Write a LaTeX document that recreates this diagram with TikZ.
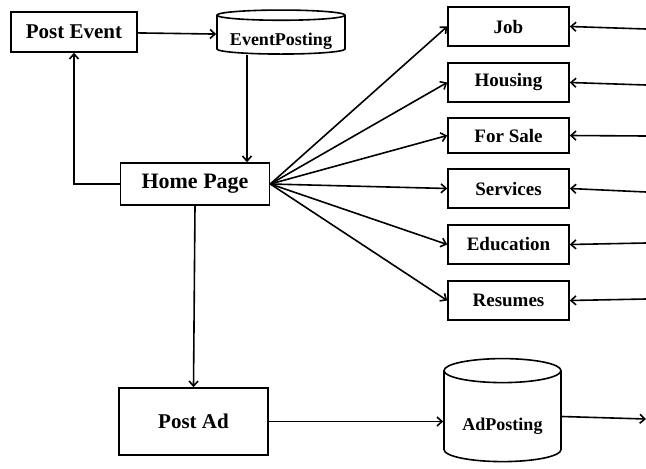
\documentclass[tikz,border=0pt]{standalone}
\usepackage{fontspec}
\setmainfont{Liberation Serif}
\usetikzlibrary{arrows.meta,shapes.geometric}

\begin{document}
\begin{tikzpicture}[x=1pt,y=-1pt,line width=1.6pt,
    box/.style={draw,rectangle,inner sep=0pt,font=\bfseries\fontsize{19}{22}\selectfont},
    store/.style={draw,cylinder,shape border rotate=90,inner sep=0pt,
      font=\bfseries\fontsize{18}{21}\selectfont},
    flow/.style={-{Straight Barb[length=5pt,width=9pt]},line width=1.6pt},
    every edge/.append style={flow}]
  \useasboundingbox (0,0) rectangle (646,469);

  \node[box,minimum width=126pt,minimum height=40pt,font=\bfseries\fontsize{21}{25}\selectfont] (postevent) at (74,32) {Post Event};
  \node[store,minimum width=128pt,minimum height=44pt,aspect=0.1] (eventposting) at (281,35) {\raisebox{-10pt}[0pt][0pt]{EventPosting}};
  \node[box,minimum width=149pt,minimum height=42pt,font=\bfseries\fontsize{22}{26}\selectfont] (home) at (195,184) {Home Page};
  \node[box,minimum width=149pt,minimum height=67pt,font=\bfseries\fontsize{21}{25}\selectfont] (postad) at (193.5,421.5) {Post Ad};
  \node[store,minimum width=117pt,minimum height=103pt,aspect=0.3] (adposting) at (502.5,416.5) {\raisebox{-14pt}[0pt][0pt]{AdPosting}};

  \node[box,minimum width=121pt,minimum height=39pt] (job) at (508.5,26.5) {Job};
  \node[box,minimum width=121pt,minimum height=39pt] (housing) at (508.5,82.5) {Housing};
  \node[box,minimum width=121pt,minimum height=35pt] (forsale) at (508.5,135.5) {For Sale};
  \node[box,minimum width=121pt,minimum height=39pt] (services) at (508.5,188.5) {Services};
  \node[box,minimum width=121pt,minimum height=39pt] (education) at (508.5,244.5) {Education};
  \node[box,minimum width=121pt,minimum height=39pt] (resumes) at (508.5,300.5) {Resumes};

  \coordinate (jobin) at (646,29);
  \coordinate (housingin) at (646,85);
  \coordinate (forsalein) at (646,136);
  \coordinate (servicesin) at (646,192);
  \coordinate (educationin) at (646,243);
  \coordinate (resumesin) at (646,299);
  \coordinate (adout) at (646,419);

  \path
    (postevent) edge (eventposting)
    ([xshift=-34pt]eventposting.south) edge ([xshift=-34pt]eventposting.south |- home.north)
    (home.south) edge (postad.north)
    (postad.east) edge (postad.east -| adposting.west)
    (adposting.east) edge (adout)
    (home.east) edge (job.west)
    (home.east) edge (housing.west)
    (home.east) edge (forsale.west)
    (home.east) edge (services.west)
    (home.east) edge (education.west)
    (home.east) edge (resumes.west)
    (jobin) edge (job.east)
    (housingin) edge (housing.east)
    (forsalein) edge (forsale.east)
    (servicesin) edge (services.east)
    (educationin) edge (education.east)
    (resumesin) edge (resumes.east);
  \draw[flow] (home.west) -| (postevent.south);
\end{tikzpicture}
\end{document}
